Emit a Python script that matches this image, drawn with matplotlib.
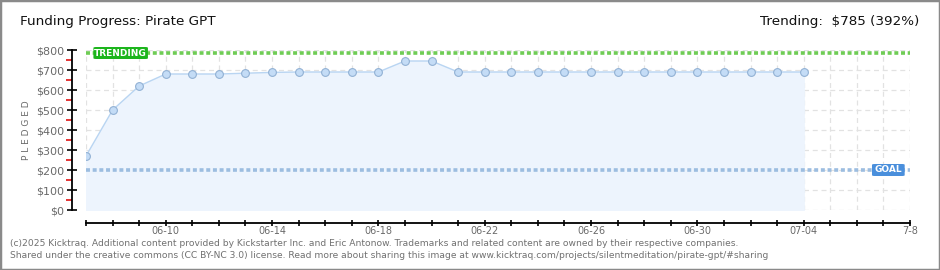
import numpy as np
import pandas as pd
import matplotlib
matplotlib.use("Agg")
import matplotlib.pyplot as plt
import matplotlib.dates as mdates
from matplotlib.patches import Rectangle, FancyBboxPatch

# data
dates = pd.date_range("2025-06-07", "2025-07-04", freq="D")
pledged = [270, 500, 620, 680, 680, 680, 684, 688, 690, 690, 690, 690, 745, 745,
           690, 690, 690, 690, 690, 690, 690, 690, 690, 690, 690, 690, 690, 690]
goal = 200
trending = 785
x_start, x_end = pd.Timestamp("2025-06-07"), pd.Timestamp("2025-07-08")
major_ticks = pd.to_datetime(["2025-06-10", "2025-06-14", "2025-06-18", "2025-06-22",
                              "2025-06-26", "2025-06-30", "2025-07-04", "2025-07-08"])
major_labels = ["06-10", "06-14", "06-18", "06-22", "06-26", "06-30", "07-04", "7-8"]
y_ticks = [0, 100, 200, 300, 400, 500, 600, 700, 800]

plt.rcParams['font.family'] = ['DejaVu Sans']
W, H = 940, 270
fig = plt.figure(figsize=(W / 100, H / 100), dpi=100)
fig.patches.append(Rectangle((0, 0), 1, 1, transform=fig.transFigure, fill=False,
                             edgecolor="#8a8a8a", linewidth=2.5))

ax = fig.add_axes([86 / W, (H - 210) / H, (910 - 86) / W, 160 / H])
ax.set_xlim(x_start, x_end)
ax.set_ylim(0, 800)

# grid
for d in pd.date_range(x_start, x_end, freq="D"):
    ax.axvline(d, color="#e2e2e2", lw=0.9, ls=(0, (4, 3)), zorder=0)
for v in y_ticks:
    ax.axhline(v, color="#e2e2e2", lw=0.9, ls=(0, (4, 3)), zorder=0)

# series
ax.fill_between(dates, pledged, 0, color="#edf4fd", zorder=1)
ax.plot(dates, pledged, color="#b9d5f2", lw=1, zorder=2)
ax.plot(dates, pledged, ls="none", marker="o", ms=5.6, mfc="#c4dcf6",
        mec="#92b1d4", mew=0.8, zorder=3)

# trending / goal lines
ax.plot([x_start, x_end], [trending, trending], color="#6fcc55", lw=2.6,
        ls=(0, (1.1, 0.75)), zorder=2, clip_on=False)
ax.plot([x_start, x_end], [goal, goal], color="#9cbde0", lw=2.6,
        ls=(0, (1.1, 0.75)), zorder=2, clip_on=False)

tr = FancyBboxPatch((mdates.date2num(x_start) + 0.28, trending - 30), 2.05, 60,
                    boxstyle="round,pad=0,rounding_size=0.1", fc="#1cb51c", ec="none",
                    zorder=4, clip_on=False, mutation_aspect=40)
ax.add_patch(tr)
ax.text(mdates.date2num(x_start) + 1.3, trending, "TRENDING", color="white",
        fontsize=6.5, fontweight="bold", ha="center", va="center", zorder=5, clip_on=False)
gl = FancyBboxPatch((mdates.date2num(x_end) - 1.43, goal - 30), 1.23, 60,
                    boxstyle="round,pad=0,rounding_size=0.1", fc="#4a8fdc", ec="none",
                    zorder=4, clip_on=False, mutation_aspect=40)
ax.add_patch(gl)
ax.text(mdates.date2num(x_end) - 0.82, goal, "GOAL", color="white",
        fontsize=6.5, fontweight="bold", ha="center", va="center", zorder=5, clip_on=False)

# spines
for s in ["top", "right"]:
    ax.spines[s].set_visible(False)
ax.spines["left"].set_position(("outward", 10))
ax.spines["left"].set_bounds(0, 800)
ax.spines["bottom"].set_position(("outward", 9))
ax.spines["left"].set_linewidth(1.3)
ax.spines["bottom"].set_linewidth(1.3)

ax.set_yticks(y_ticks)
ax.set_yticklabels([f"${v}" for v in y_ticks])
ax.set_yticks(np.arange(50, 800, 100), minor=True)
ax.tick_params(axis="y", which="major", direction="inout", length=7, width=1.2,
               colors="black", labelcolor="#6a6a6a", labelsize=8, pad=2)
ax.tick_params(axis="y", which="minor", direction="out", length=4, width=1.2,
               color="#e01010")

ax.set_xticks(major_ticks)
ax.set_xticklabels(major_labels)
ax.set_xticks(pd.date_range(x_start, x_end, freq="D"), minor=True)
ax.tick_params(axis="x", which="both", direction="inout", length=5, width=1.2,
               colors="black", labelcolor="#6a6a6a", labelsize=7, pad=0)
ax.set_ylabel("P L E D G E D", color="#6a6a6a", fontsize=6.5, labelpad=4)

# texts
fig.text(20 / W, 1 - 22 / H, "Funding Progress: Pirate GPT", fontsize=9.7,
         color="#111111", va="center", ha="left")
fig.text(919 / W, 1 - 22 / H, "Trending:  $785 (392%)", fontsize=9.7,
         color="#111111", va="center", ha="right")
fig.text(10 / W, 1 - 243 / H,
         "(c)2025 Kicktraq. Additional content provided by Kickstarter Inc. and Eric Antonow. "
         "Trademarks and related content are owned by their respective companies.",
         fontsize=6.6, color="#707070", va="center", ha="left")
fig.text(10 / W, 1 - 256 / H,
         "Shared under the creative commons (CC BY-NC 3.0) license. Read more about sharing this image at "
         "www.kicktraq.com/projects/silentmeditation/pirate-gpt/#sharing",
         fontsize=6.6, color="#707070", va="center", ha="left")

fig.savefig("out.png", dpi=100)
